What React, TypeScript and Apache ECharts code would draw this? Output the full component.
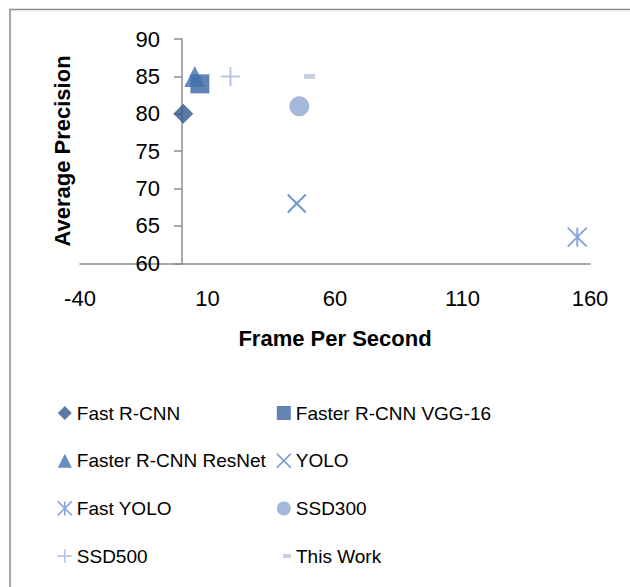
import React, { useEffect, useRef } from "react";
import * as echarts from "echarts";

// ---- data ----
const methods = [
  "Fast R-CNN",
  "Faster R-CNN VGG-16",
  "Faster R-CNN ResNet",
  "YOLO",
  "Fast YOLO",
  "SSD300",
  "SSD500",
  "This Work",
];
const framesPerSecond = [0.5, 7, 5, 45, 155, 46, 19, 50];
const averagePrecision = [80, 84, 85, 68, 63.5, 81, 85, 85];
const xTicks = [-40, 10, 60, 110, 160];
const yTicks = [60, 65, 70, 75, 80, 85, 90];
const xTitle = "Frame Per Second";
const yTitle = "Average Precision";

// ---- styles / layout ----
const FONT = "'Liberation Sans', Arial, sans-serif";
const X_PATH = "path://M0,0L20,20M20,0L0,20";
const STAR_PATH = "path://M0,0L20,20M20,0L0,20M10,0L10,20";
const PLUS_PATH = "path://M10,0L10,20M0,10L20,10";
const GRID_LEFT = 80;
const GRID_RIGHT = 40;
const CHART_W = 630;
// y axis crosses the x axis at x = 0
const yAxisOffset =
  -((0 - xTicks[0]) / (xTicks[xTicks.length - 1] - xTicks[0])) *
  (CHART_W - GRID_LEFT - GRID_RIGHT);

type Sty = {
  color: string;
  symbol: string;
  size: number | number[];
  stroke?: boolean;
};
const styles: Record<string, Sty> = {
  "Fast R-CNN": { color: "#34598f", symbol: "diamond", size: 20 },
  "Faster R-CNN VGG-16": { color: "#3b64a0", symbol: "rect", size: 19 },
  "Faster R-CNN ResNet": { color: "#4070b0", symbol: "triangle", size: 21 },
  YOLO: { color: "#4a7cc4", symbol: X_PATH, size: 18, stroke: true },
  "Fast YOLO": { color: "#6b8fd0", symbol: STAR_PATH, size: 19, stroke: true },
  SSD300: { color: "#8ea6d1", symbol: "circle", size: 20 },
  SSD500: { color: "#a6b8dc", symbol: PLUS_PATH, size: 19, stroke: true },
  "This Work": { color: "#b9c6e0", symbol: "rect", size: [11, 5] },
};

function itemStyleFor(name: string, legend = false) {
  const s = styles[name];
  if (s.stroke) {
    return {
      color: "rgba(0,0,0,0)",
      borderColor: s.color,
      borderWidth: legend ? 1.6 : 2,
    };
  }
  return { color: s.color, borderWidth: 0 };
}

function legendData(list: string[]) {
  return list.map((n) => ({
    name: n,
    icon: styles[n].symbol,
    itemStyle: itemStyleFor(n, true),
  }));
}

const legendText = { fontFamily: FONT, fontSize: 19, color: "#000" };

export default function App() {
  const ref = useRef<HTMLDivElement>(null);

  useEffect(() => {
    if (!ref.current) return;
    const chart = echarts.init(ref.current, null, { renderer: "svg" });

    const series = methods.map((name, i) => {
      const s = styles[name];
      return {
        name,
        type: "scatter",
        symbol: s.symbol,
        symbolSize: s.size,
        itemStyle: itemStyleFor(name),
        data: [[framesPerSecond[i], averagePrecision[i]]],
      };
    });

    chart.setOption({
      animation: false,
      backgroundColor: "#fff",
      textStyle: { fontFamily: FONT },
      grid: {
        left: GRID_LEFT,
        right: GRID_RIGHT,
        top: 39,
        bottom: 323.7,
        containLabel: false,
        outerBoundsMode: "none",
      },
      xAxis: {
        type: "value",
        min: xTicks[0],
        max: xTicks[xTicks.length - 1],
        interval: 50,
        name: xTitle,
        nameLocation: "middle",
        nameGap: 64,
        nameMoveOverlap: false,
        nameTextStyle: { fontFamily: FONT, fontSize: 22, fontWeight: "bold", color: "#000" },
        axisLine: { show: true, onZero: false, lineStyle: { color: "#8c8c8c", width: 1.5 } },
        axisTick: { show: false },
        splitLine: { show: false },
        axisLabel: { fontFamily: FONT, fontSize: 22, color: "#000", margin: 24 },
      },
      yAxis: {
        type: "value",
        min: yTicks[0],
        max: yTicks[yTicks.length - 1],
        interval: 5,
        position: "left",
        offset: yAxisOffset,
        axisLine: { show: true, onZero: false, lineStyle: { color: "#8c8c8c", width: 1.5 } },
        axisTick: { show: true, length: 8, lineStyle: { color: "#8c8c8c", width: 1.5 } },
        splitLine: { show: false },
        axisLabel: { fontFamily: FONT, fontSize: 22, color: "#000", margin: 22 },
      },
      legend: [
        {
          orient: "vertical",
          left: 57,
          top: 403.5,
          padding: 0,
          itemWidth: 14,
          itemHeight: 14,
          itemGap: 28.7,
          textStyle: legendText,
          data: legendData(["Fast R-CNN", "Faster R-CNN ResNet", "Fast YOLO", "SSD500"]),
        },
        {
          orient: "vertical",
          left: 276,
          top: 403.5,
          padding: 0,
          itemWidth: 14,
          itemHeight: 14,
          itemGap: 28.7,
          textStyle: legendText,
          data: legendData(["Faster R-CNN VGG-16", "YOLO", "SSD300"]),
        },
        {
          orient: "vertical",
          left: 283,
          top: 546.5,
          padding: 0,
          itemWidth: 8,
          itemHeight: 4,
          textStyle: legendText,
          data: legendData(["This Work"]),
        },
      ],
      graphic: [
        {
          type: "rect",
          silent: true,
          z: -10,
          shape: { x: 10, y: 9.5, width: 800, height: 800 },
          style: { fill: "none", stroke: "#8c8c8c", lineWidth: 1.5 },
        },
        {
          type: "text",
          silent: true,
          x: 62,
          y: 151,
          rotation: Math.PI / 2,
          style: {
            text: yTitle,
            font: `bold 22px ${FONT}`,
            fill: "#000",
            align: "center",
            verticalAlign: "middle",
          },
        },
      ],
      series,
    });

    return () => chart.dispose();
  }, []);

  return (
    <div
      ref={ref}
      style={{ position: "absolute", left: 0, top: 0, width: 630, height: 587 }}
    />
  );
}
